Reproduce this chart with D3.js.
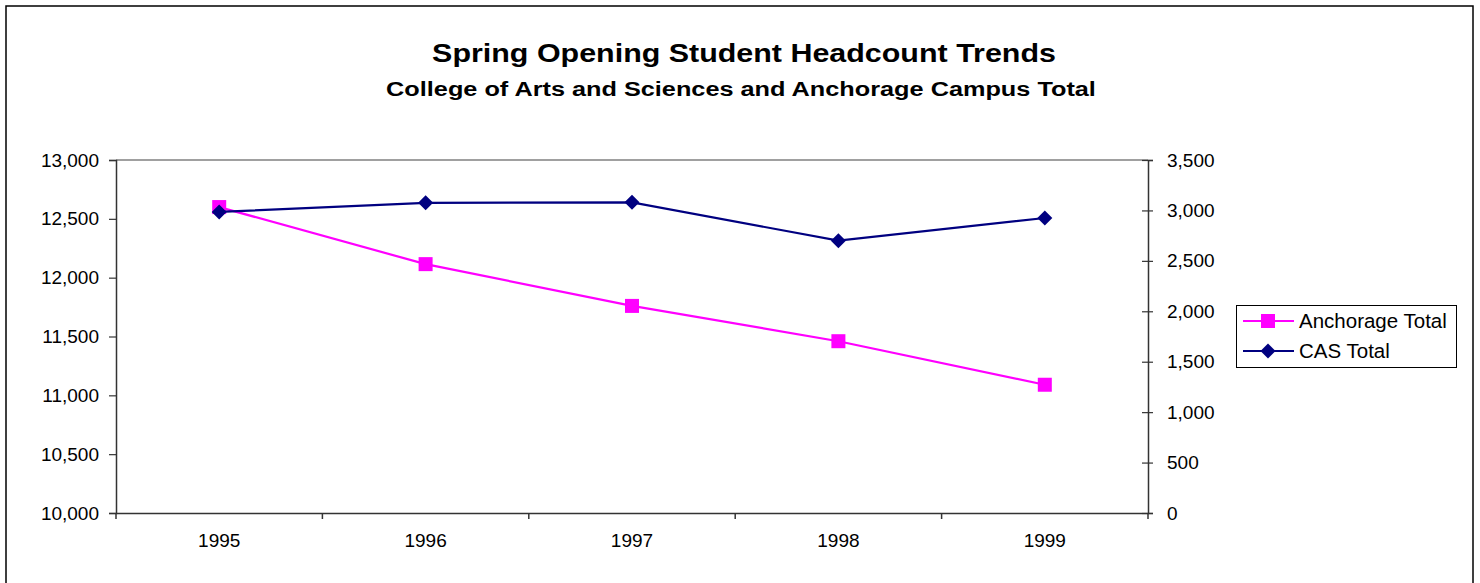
<html>
<head>
    <meta http-equiv="Content-Type" content="text/html;charset=utf-8">
    <title>Spring Opening Student Headcount Trends</title>
    <style>
        body { margin: 0; background: #fff; }
        text { font-family: "Liberation Sans", Arial, sans-serif; fill: #000; }
    </style>
</head>
<body>
</body>
<script type="text/javascript" src="https://cdn.jsdelivr.net/npm/d3@7/dist/d3.min.js"></script>
<script>
    var w = 1480, h = 583;

    // data
    var years = ['1995', '1996', '1997', '1998', '1999'];
    var anchorageTotal = [12600, 12115, 11760, 11460, 11090];
    var casTotal = [2985, 3075, 3080, 2700, 2925];
    var leftTicks = [10000, 10500, 11000, 11500, 12000, 12500, 13000];
    var rightTicks = [0, 500, 1000, 1500, 2000, 2500, 3000, 3500];

    var plot = {left: 116, right: 1148, top: 160, bottom: 513};

    var svg = d3.select('body')
            .append('svg')
            .attr('width', w)
            .attr('height', h);

    // outer frame
    svg.append('rect')
            .attr('x', 6).attr('y', 6)
            .attr('width', 1467).attr('height', 640)
            .attr('fill', 'none')
            .attr('stroke', '#000')
            .attr('stroke-width', 1.5);

    // titles are drawn wide in the original, so stretch them horizontally
    function wideText(cxPos, y, size, width, str) {
        var g = svg.append('g').attr('transform', 'translate(' + cxPos + ',' + y + ')');
        var t = g.append('text')
                .attr('text-anchor', 'middle')
                .style('font-size', size + 'px').style('font-weight', 'bold')
                .text(str);
        var natural = t.node().getComputedTextLength();
        t.attr('transform', 'scale(' + (width / natural) + ',1)');
    }
    wideText(744, 62, 26, 624, 'Spring Opening Student Headcount Trends');
    wideText(741, 96, 21, 710, 'College of Arts and Sciences and Anchorage Campus Total');

    var x = d3.scaleBand().domain(years).range([plot.left, plot.right]);
    var yLeft = d3.scaleLinear().domain([10000, 13000]).range([plot.bottom, plot.top]);
    var yRight = d3.scaleLinear().domain([0, 3500]).range([plot.bottom, plot.top]);
    var fmt = d3.format(',');

    // top border of plot area
    svg.append('line')
            .attr('x1', plot.left).attr('x2', plot.right)
            .attr('y1', plot.top).attr('y2', plot.top)
            .attr('stroke', '#808080').attr('stroke-width', 1.5);

    var axisLeft = svg.append('g')
            .attr('transform', 'translate(' + plot.left + ',0)')
            .call(d3.axisLeft(yLeft).tickValues(leftTicks).tickFormat(fmt).tickSize(7).tickPadding(10));

    var axisRight = svg.append('g')
            .attr('transform', 'translate(' + plot.right + ',0)')
            .call(d3.axisRight(yRight).tickValues(rightTicks).tickFormat(fmt).tickSize(5).tickPadding(14));
    axisRight.selectAll('.tick line').attr('x1', -6);

    var axisBottom = svg.append('g')
            .attr('transform', 'translate(0,' + plot.bottom + ')')
            .call(d3.axisBottom(x).tickSize(0).tickPadding(21));

    // category boundary ticks on the x axis
    var bounds = years.map(function (d) { return x(d); }).concat([plot.right]);
    svg.selectAll('.xtick')
            .data(bounds)
            .enter()
            .append('line')
            .attr('class', 'xtick')
            .attr('x1', function (d) { return d; })
            .attr('x2', function (d) { return d; })
            .attr('y1', plot.bottom).attr('y2', plot.bottom + 6)
            .attr('stroke', '#333').attr('stroke-width', 1.5);

    svg.selectAll('.domain').attr('stroke', '#333').attr('stroke-width', 1.5);
    svg.selectAll('.tick line').attr('stroke', '#333').attr('stroke-width', 1.2);
    svg.selectAll('.tick text').style('font-size', '19px').attr('fill', '#000');

    function cx(i) { return x(years[i]) + x.bandwidth() / 2; }

    // Anchorage total (left axis)
    var lineA = d3.line()
            .x(function (d, i) { return cx(i); })
            .y(function (d) { return yLeft(d); });

    svg.append('path')
            .datum(anchorageTotal)
            .attr('d', lineA)
            .attr('fill', 'none')
            .attr('stroke', '#FF00FF')
            .attr('stroke-width', 2.2);

    svg.selectAll('.sq')
            .data(anchorageTotal)
            .enter()
            .append('rect')
            .attr('class', 'sq')
            .attr('x', function (d, i) { return cx(i) - 7; })
            .attr('y', function (d) { return yLeft(d) - 7; })
            .attr('width', 14).attr('height', 14)
            .attr('fill', '#FF00FF');

    // CAS total (right axis)
    var lineC = d3.line()
            .x(function (d, i) { return cx(i); })
            .y(function (d) { return yRight(d); });

    svg.append('path')
            .datum(casTotal)
            .attr('d', lineC)
            .attr('fill', 'none')
            .attr('stroke', '#000080')
            .attr('stroke-width', 2.2);

    var diamond = 'M0,-7.5L7.5,0L0,7.5L-7.5,0Z';
    svg.selectAll('.dm')
            .data(casTotal)
            .enter()
            .append('path')
            .attr('class', 'dm')
            .attr('d', diamond)
            .attr('transform', function (d, i) { return 'translate(' + cx(i) + ',' + yRight(d) + ')'; })
            .attr('fill', '#000080');

    // legend
    var legend = svg.append('g');
    legend.append('rect')
            .attr('x', 1236.5).attr('y', 305.5)
            .attr('width', 220).attr('height', 62)
            .attr('fill', '#fff').attr('stroke', '#000').attr('stroke-width', 1);

    var legendItems = [
        {name: 'Anchorage Total', color: '#FF00FF', shape: 'square'},
        {name: 'CAS Total', color: '#000080', shape: 'diamond'}
    ];
    legendItems.forEach(function (item, i) {
        var ly = 321 + i * 30;
        legend.append('line')
                .attr('x1', 1243).attr('x2', 1294)
                .attr('y1', ly).attr('y2', ly)
                .attr('stroke', item.color).attr('stroke-width', 2.2);
        if (item.shape === 'square') {
            legend.append('rect')
                    .attr('x', 1261).attr('y', ly - 7)
                    .attr('width', 14).attr('height', 14)
                    .attr('fill', item.color);
        } else {
            legend.append('path')
                    .attr('d', diamond)
                    .attr('transform', 'translate(1268,' + ly + ')')
                    .attr('fill', item.color);
        }
        legend.append('text')
                .attr('x', 1299).attr('y', ly + 7)
                .style('font-size', '20.5px')
                .text(item.name);
    });
</script>
</html>
